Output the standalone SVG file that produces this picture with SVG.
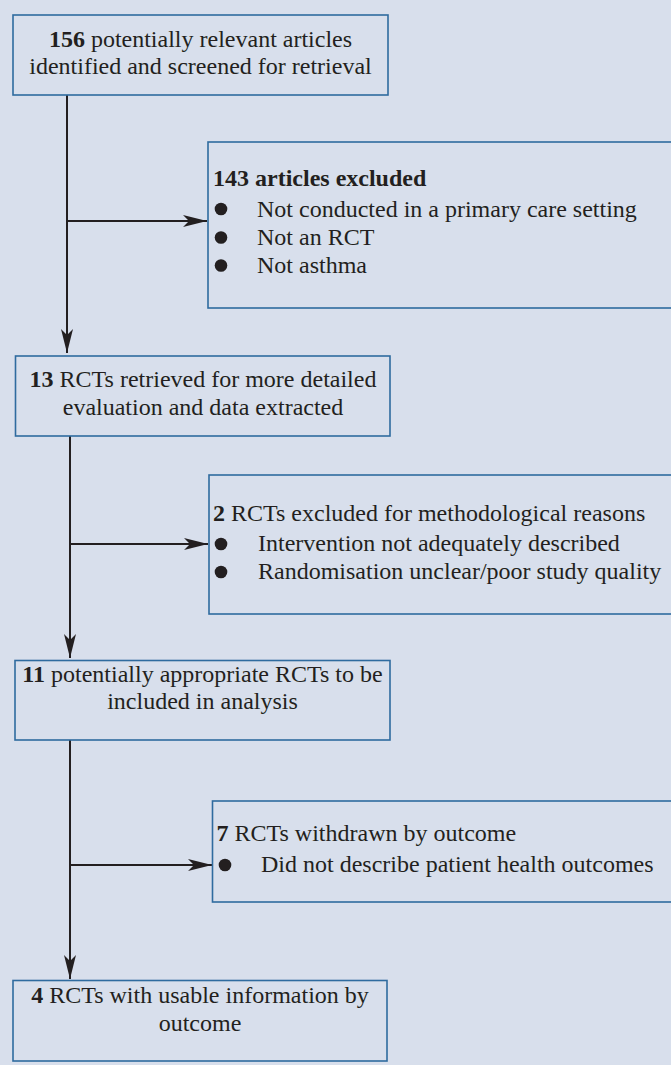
<svg xmlns="http://www.w3.org/2000/svg" width="671" height="1065" viewBox="0 0 671 1065">
<defs>
<style>
.bg{fill:#d8dfec}
.box{fill:#d8dfec;stroke:#2f6b9f;stroke-width:1.6}
.t{font-family:"Liberation Serif","Times New Roman",serif;font-size:24px;fill:#231f20}
.b{font-weight:bold}
.c{text-anchor:middle}
.ln{fill:none;stroke:#231f20;stroke-width:2}
.dot{fill:#231f20}
</style>
<marker id="ah" markerUnits="userSpaceOnUse" markerWidth="26" markerHeight="14" viewBox="-25 -7 26 14" refX="0" refY="0" orient="auto">
<path d="M0,0 L-24,-6 L-18,0 L-24,6 Z" fill="#231f20"/>
</marker>
</defs>
<rect class="bg" x="0" y="0" width="671" height="1065"/>
<g id="connectors">
<line class="ln" x1="67" y1="95" x2="67" y2="353" marker-end="url(#ah)"/>
<line class="ln" x1="67" y1="221" x2="207" y2="221" marker-end="url(#ah)"/>
<line class="ln" x1="70" y1="436" x2="70" y2="658" marker-end="url(#ah)"/>
<line class="ln" x1="70" y1="544" x2="208" y2="544" marker-end="url(#ah)"/>
<line class="ln" x1="70" y1="740" x2="70" y2="979" marker-end="url(#ah)"/>
<line class="ln" x1="70" y1="865" x2="212" y2="865" marker-end="url(#ah)"/>
</g>
<g id="n1">
<rect class="box" x="13" y="15" width="375" height="80"/>
<text class="t c" x="200.5" y="46.5"><tspan class="b">156</tspan> potentially relevant articles</text>
<text class="t c" x="200.5" y="74">identified and screened for retrieval</text>
</g>
<g id="n2">
<rect class="box" x="208" y="142" width="470" height="166"/>
<text class="t b" x="213" y="186">143 articles excluded</text>
<circle class="dot" cx="221" cy="209" r="6.3"/>
<circle class="dot" cx="221" cy="237.5" r="6.3"/>
<circle class="dot" cx="221" cy="265.5" r="6.3"/>
<text class="t" x="257" y="216.5">Not conducted in a primary care setting</text>
<text class="t" x="257" y="245">Not an RCT</text>
<text class="t" x="257" y="273">Not asthma</text>
</g>
<g id="n3">
<rect class="box" x="15.5" y="356" width="374.5" height="80"/>
<text class="t c" x="203" y="387"><tspan class="b">13</tspan> RCTs retrieved for more detailed</text>
<text class="t c" x="203" y="415">evaluation and data extracted</text>
</g>
<g id="n4">
<rect class="box" x="209" y="475" width="470" height="139"/>
<text class="t" x="213" y="521"><tspan class="b">2</tspan> RCTs excluded for methodological reasons</text>
<circle class="dot" cx="221" cy="544" r="6.3"/>
<circle class="dot" cx="221" cy="572" r="6.3"/>
<text class="t" x="258" y="551">Intervention not adequately described</text>
<text class="t" x="258" y="579">Randomisation unclear/poor study quality</text>
</g>
<g id="n5">
<rect class="box" x="15" y="660.5" width="375" height="79.5"/>
<text class="t c" x="202.5" y="681.5"><tspan class="b">11</tspan> potentially appropriate RCTs to be</text>
<text class="t c" x="202.5" y="709">included in analysis</text>
</g>
<g id="n6">
<rect class="box" x="212.5" y="801" width="470" height="101"/>
<text class="t" x="216.5" y="840.5"><tspan class="b">7</tspan> RCTs withdrawn by outcome</text>
<circle class="dot" cx="225" cy="865" r="6.3"/>
<text class="t" x="261" y="872">Did not describe patient health outcomes</text>
</g>
<g id="n7">
<rect class="box" x="13" y="980.5" width="374" height="80.5"/>
<text class="t c" x="200" y="1003"><tspan class="b">4</tspan> RCTs with usable information by</text>
<text class="t c" x="200" y="1030.5">outcome</text>
</g>
</svg>
